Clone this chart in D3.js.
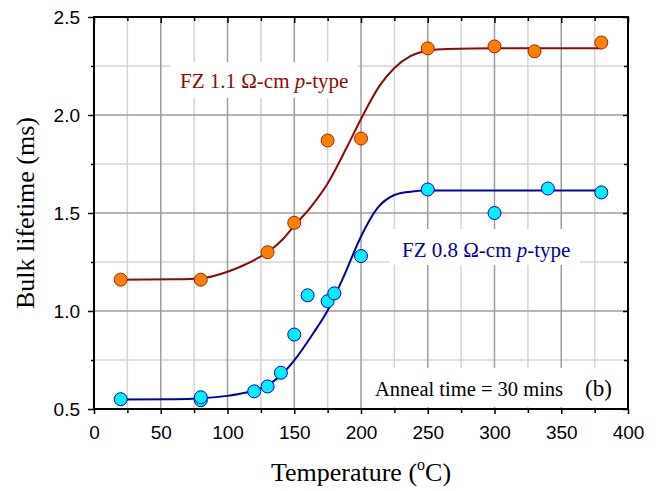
<!DOCTYPE html>
<html>
<head>
<meta charset="utf-8">
<script src="https://cdn.jsdelivr.net/npm/d3@7"></script>
<style>
  body { margin: 0; background: #fff; }
  svg { display: block; }
</style>
</head>
<body>
<div id="chart"></div>
<script>
// data
const tempRed = [20, 80, 130, 150, 175, 200, 250, 300, 330, 380];
const lifeRed = [1.16, 1.16, 1.30, 1.45, 1.87, 1.88, 2.34, 2.35, 2.325, 2.37];

const tempBlue = [20, 80, 80, 120, 130, 140, 150, 160, 175, 180, 200, 250, 300, 340, 380];
const lifeBlue = [0.55, 0.545, 0.56, 0.59, 0.615, 0.685, 0.88, 1.08, 1.05, 1.09, 1.28, 1.62, 1.50, 1.625, 1.605];

// fitted curves (traced)
const fitRedT = [20, 60, 80, 100, 110, 120, 130, 142, 150, 163, 175, 189, 200, 214, 225, 237, 250, 265, 300, 380];
const fitRedV = [1.16, 1.162, 1.166, 1.20, 1.227, 1.26, 1.30, 1.37, 1.435, 1.535, 1.65, 1.83, 1.98, 2.15, 2.24, 2.30, 2.328, 2.337, 2.34, 2.34];
const fitBlueT = [20, 60, 80, 100, 115, 125, 140, 150, 164, 175, 187, 200, 212, 225, 237, 250, 300, 380];
const fitBlueV = [0.548, 0.55, 0.555, 0.567, 0.585, 0.605, 0.672, 0.748, 0.884, 1.003, 1.175, 1.38, 1.522, 1.592, 1.609, 1.615, 1.615, 1.615];

const xMajor = [0, 50, 100, 150, 200, 250, 300, 350, 400];
const xMinor = [25, 75, 125, 175, 225, 275, 325, 375];
const yMajor = [0.5, 1.0, 1.5, 2.0, 2.5];
const yMinor = [0.75, 1.25, 1.75, 2.25];

const W = 659, H = 491;
const margin = {top: 17, right: 31, bottom: 82, left: 94};
const pL = margin.left, pR = W - margin.right, pT = margin.top, pB = H - margin.bottom;

const svg = d3.select("#chart").append("svg")
  .attr("width", W)
  .attr("height", H);

const x = d3.scaleLinear().domain([0, 400]).range([pL, pR]);
const y = d3.scaleLinear().domain([0.5, 2.5]).range([pB, pT]);

// grid
const grid = svg.append("g");
grid.selectAll(".vmin").data(xMinor).enter().append("line")
  .attr("x1", d => x(d)).attr("x2", d => x(d))
  .attr("y1", pT).attr("y2", pB)
  .attr("stroke", "#d4d4d4").attr("stroke-width", 1.5);
grid.selectAll(".hmin").data(yMinor).enter().append("line")
  .attr("x1", pL).attr("x2", pR)
  .attr("y1", d => y(d)).attr("y2", d => y(d))
  .attr("stroke", "#d4d4d4").attr("stroke-width", 1.5);
grid.selectAll(".vmaj").data(xMajor.slice(1, -1)).enter().append("line")
  .attr("x1", d => x(d)).attr("x2", d => x(d))
  .attr("y1", pT).attr("y2", pB)
  .attr("stroke", "#9e9e9e").attr("stroke-width", 1.5);
grid.selectAll(".hmaj").data(yMajor.slice(1, -1)).enter().append("line")
  .attr("x1", pL).attr("x2", pR)
  .attr("y1", d => y(d)).attr("y2", d => y(d))
  .attr("stroke", "#9e9e9e").attr("stroke-width", 1.5);

// white boxes behind the labels
svg.append("rect").attr("x", 170).attr("y", 62).attr("width", 188).attr("height", 36).attr("fill", "#fff");
svg.append("rect").attr("x", 390).attr("y", 229).attr("width", 190).attr("height", 36).attr("fill", "#fff");
svg.append("rect").attr("x", 367).attr("y", 368).attr("width", 256).attr("height", 39).attr("fill", "#fff");

// fit curves
const line = d3.line()
  .x(d => x(d[0]))
  .y(d => y(d[1]))
  .curve(d3.curveMonotoneX);

svg.append("path")
  .datum(d3.zip(fitRedT, fitRedV))
  .attr("d", line)
  .attr("fill", "none")
  .attr("stroke", "#8b0a0a")
  .attr("stroke-width", 2);

svg.append("path")
  .datum(d3.zip(fitBlueT, fitBlueV))
  .attr("d", line)
  .attr("fill", "none")
  .attr("stroke", "#0000a8")
  .attr("stroke-width", 2);

// points
svg.append("g").selectAll("circle")
  .data(d3.zip(tempRed, lifeRed))
  .enter().append("circle")
  .attr("cx", d => x(d[0]))
  .attr("cy", d => y(d[1]))
  .attr("r", 6.5)
  .attr("fill", "#ff8000")
  .attr("stroke", "#a02800")
  .attr("stroke-width", 1);

svg.append("g").selectAll("circle")
  .data(d3.zip(tempBlue, lifeBlue))
  .enter().append("circle")
  .attr("cx", d => x(d[0]))
  .attr("cy", d => y(d[1]))
  .attr("r", 6.5)
  .attr("fill", "#00f0ff")
  .attr("stroke", "#0000c8")
  .attr("stroke-width", 1);

// labels
const serif = "'Liberation Serif', 'Times New Roman', serif";
const lab1 = svg.append("text").attr("x", 180).attr("y", 88)
  .attr("font-family", serif).attr("font-size", 21).attr("fill", "#8b0a0a");
lab1.append("tspan").text("FZ 1.1 Ω-cm ");
lab1.append("tspan").attr("font-style", "italic").text("p");
lab1.append("tspan").text("-type");

const lab2 = svg.append("text").attr("x", 402).attr("y", 257)
  .attr("font-family", serif).attr("font-size", 21).attr("fill", "#0000a8");
lab2.append("tspan").text("FZ 0.8 Ω-cm ");
lab2.append("tspan").attr("font-style", "italic").text("p");
lab2.append("tspan").text("-type");

svg.append("text").attr("x", 375).attr("y", 396)
  .attr("font-family", serif).attr("font-size", 20.5).attr("fill", "#000")
  .text("Anneal time = 30 mins");
svg.append("text").attr("x", 585).attr("y", 396)
  .attr("font-family", serif).attr("font-size", 23).attr("fill", "#000")
  .text("(b)");

// axes
const sans = "'Liberation Sans', Arial, sans-serif";
function styleAxis(g) {
  g.select(".domain").remove();
  g.selectAll("line").attr("stroke", "#000").attr("stroke-width", 1.5);
  g.selectAll("text").attr("font-family", sans).attr("font-size", 19).attr("fill", "#000");
}

svg.append("g").attr("transform", `translate(0,${pB})`)
  .call(d3.axisBottom(x).tickValues(xMajor).tickSize(5).tickPadding(12).tickFormat(d3.format("d")))
  .call(styleAxis);
svg.append("g").attr("transform", `translate(0,${pB})`)
  .call(d3.axisBottom(x).tickValues(xMinor).tickSize(4).tickFormat(""))
  .call(styleAxis);
svg.append("g").attr("transform", `translate(0,${pT})`)
  .call(d3.axisTop(x).tickValues(xMajor).tickSize(-6).tickFormat(""))
  .call(styleAxis);
svg.append("g").attr("transform", `translate(0,${pT})`)
  .call(d3.axisTop(x).tickValues(xMinor).tickSize(-4).tickFormat(""))
  .call(styleAxis);

svg.append("g").attr("transform", `translate(${pL},0)`)
  .call(d3.axisLeft(y).tickValues(yMajor).tickSize(6).tickPadding(8).tickFormat(d3.format(".1f")))
  .call(styleAxis);
svg.append("g").attr("transform", `translate(${pL},0)`)
  .call(d3.axisLeft(y).tickValues(yMinor).tickSize(3).tickFormat(""))
  .call(styleAxis);
svg.append("g").attr("transform", `translate(${pR},0)`)
  .call(d3.axisRight(y).tickValues(yMajor).tickSize(-5).tickFormat(""))
  .call(styleAxis);
svg.append("g").attr("transform", `translate(${pR},0)`)
  .call(d3.axisRight(y).tickValues(yMinor).tickSize(-4).tickFormat(""))
  .call(styleAxis);

// frame
svg.append("rect")
  .attr("x", pL).attr("y", pT)
  .attr("width", pR - pL).attr("height", pB - pT)
  .attr("fill", "none").attr("stroke", "#000").attr("stroke-width", 2);

// axis titles
const xt = svg.append("text")
  .attr("x", (pL + pR) / 2).attr("y", 481)
  .attr("text-anchor", "middle")
  .attr("font-family", serif).attr("font-size", 26).attr("fill", "#000");
xt.append("tspan").text("Temperature (");
xt.append("tspan").attr("font-size", 16).attr("dy", -11).text("o");
xt.append("tspan").attr("dy", 11).text("C)");

svg.append("text")
  .attr("transform", `translate(34,${(pT + pB) / 2}) rotate(-90)`)
  .attr("text-anchor", "middle")
  .attr("font-family", serif).attr("font-size", 26).attr("fill", "#000")
  .text("Bulk lifetime (ms)");
</script>
</body>
</html>
